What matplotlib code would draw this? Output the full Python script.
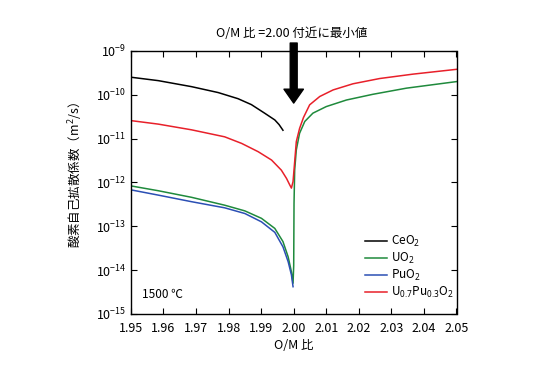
import numpy as np
import matplotlib
matplotlib.use("Agg")
import matplotlib.pyplot as plt
from matplotlib.ticker import LogLocator, NullLocator, FixedLocator

plt.rcParams['font.family'] = ['Noto Sans CJK JP', 'DejaVu Sans']
plt.rcParams['mathtext.fontset'] = 'custom'
plt.rcParams['mathtext.rm'] = 'Noto Sans'
plt.rcParams['mathtext.it'] = 'Noto Sans:italic'

# values (log10 of D in m2/s)
ceo2_x = [1.9500, 1.9584, 1.9686, 1.9768, 1.9829, 1.9870, 1.9911, 1.9942, 1.9955, 1.9967]
ceo2_logd = [-9.600, -9.678, -9.815, -9.950, -10.090, -10.225, -10.422, -10.575, -10.680, -10.810]

uo2_x = [1.9500, 1.9584, 1.9686, 1.9788, 1.9850, 1.9901, 1.9942, 1.9967, 1.9983, 1.9993, 1.9998,
         2.0000, 2.0001, 2.0003, 2.0008, 2.0018, 2.0034, 2.0059, 2.0100, 2.0162, 2.0243, 2.0346, 2.0500]
uo2_logd = [-12.08, -12.19, -12.34, -12.52, -12.65, -12.82, -13.05, -13.35, -13.70, -14.04, -14.30,
            -13.90, -12.48, -11.72, -11.26, -10.88, -10.61, -10.42, -10.27, -10.12, -9.99, -9.85, -9.70]

puo2_x = [1.9500, 1.9584, 1.9686, 1.9788, 1.9850, 1.9901, 1.9942, 1.9967, 1.9983, 1.9993, 1.9998]
puo2_logd = [-12.17, -12.29, -12.44, -12.58, -12.71, -12.90, -13.14, -13.47, -13.81, -14.11, -14.38]

mox_x = [1.9500, 1.9584, 1.9686, 1.9788, 1.9840, 1.9891, 1.9932, 1.9962, 1.9978, 1.9988, 1.9993,
         1.9998, 2.0003, 2.0008, 2.0018, 2.0030, 2.0049, 2.0080, 2.0121, 2.0182, 2.0264, 2.0366, 2.0500]
mox_logd = [-10.59, -10.67, -10.80, -10.96, -11.11, -11.30, -11.49, -11.72, -11.91, -12.06, -12.13,
            -11.98, -11.53, -11.07, -10.77, -10.52, -10.23, -10.04, -9.89, -9.75, -9.63, -9.53, -9.42]

labels = ['CeO$_2$', 'UO$_2$', 'PuO$_2$', 'U$_{0.7}$Pu$_{0.3}$O$_2$']
colors = ['black', '#1f8a3c', '#2b4fb4', '#e8202a']
x_ticks = [1.95, 1.96, 1.97, 1.98, 1.99, 2.00, 2.01, 2.02, 2.03, 2.04, 2.05]

series = [(ceo2_x, ceo2_logd), (uo2_x, uo2_logd), (puo2_x, puo2_logd), (mox_x, mox_logd)]

fig = plt.figure(figsize=(5.5, 3.8), dpi=100)
ax = fig.add_axes([0.238, 0.174, 0.592, 0.692])

for (xs, ld), lab, c in zip(series, labels, colors):
    ax.plot(xs, 10.0 ** np.array(ld), color=c, lw=1.1, label=lab,
            solid_joinstyle='round')

ax.set_yscale('log')
ax.set_xlim(1.95, 2.05)
ax.set_ylim(1e-15, 1e-9)
ax.xaxis.set_major_locator(FixedLocator(x_ticks))
ax.set_xticklabels(['%.2f' % t for t in x_ticks])
ax.yaxis.set_major_locator(LogLocator(base=10, numticks=10))
ax.yaxis.set_minor_locator(NullLocator())
ax.tick_params(direction='in', top=True, right=True, length=4, labelsize=9)
ax.tick_params(axis='x', pad=6)
for s in ax.spines.values():
    s.set_linewidth(1.0)

ax.set_xlabel('O/M 比', fontsize=9, labelpad=3)
ax.set_ylabel('酸素自己拡散係数（m$^2$/s）', fontsize=9)
ax.yaxis.set_label_coords(-0.14, 0.53)

ax.text(1.9535, 10 ** -14.55, '1500 ℃', fontsize=8.5, ha='left', va='center')

ax.legend(loc='lower left', bbox_to_anchor=(0.70, 0.03), frameon=False, borderpad=0,
          fontsize=8.5, handlelength=1.9, handletextpad=0.35, labelspacing=0.15)

ax.annotate('', xy=(2.0, 10 ** -10.19), xytext=(2.0, 10 ** -8.82),
            xycoords='data', textcoords='data', annotation_clip=False,
            arrowprops=dict(arrowstyle='simple,head_width=1.4,head_length=1.0,tail_width=0.5',
                            facecolor='black', edgecolor='black', shrinkA=0, shrinkB=0))
fig.text(0.531, 0.912, 'O/M 比 =2.00 付近に最小値', fontsize=9, ha='center', va='center')

fig.savefig('out.png', dpi=100)
